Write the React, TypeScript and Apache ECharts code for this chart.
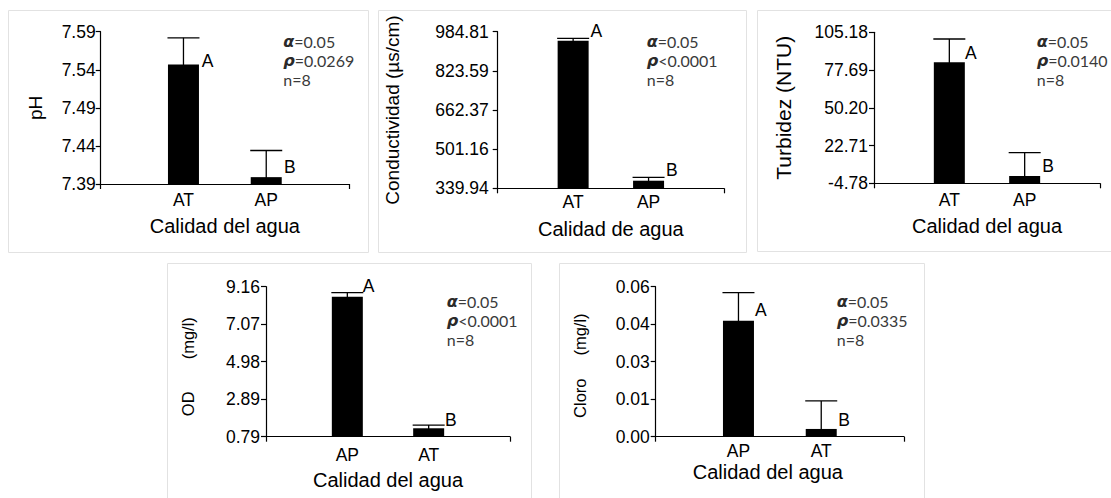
import React, { useEffect, useRef } from "react";
import * as echarts from "echarts";

// ---------- data ----------
const categoriesTop = ["", "AT", "AP", ""];
const categoriesBottom = ["", "AP", "AT", ""];

const phMeans = [7.547, 7.399];
const phUpper = [7.582, 7.434];
const phTicks = [7.39, 7.44, 7.49, 7.54, 7.59];
const phTickLabels = ["7.39", "7.44", "7.49", "7.54", "7.59"];

const condMeans = [947.7, 371.2];
const condUpper = [957.6, 385.2];
const condTicks = [339.94, 501.16, 662.37, 823.59, 984.81];
const condTickLabels = ["339.94", "501.16", "662.37", "823.59", "984.81"];

const turbMeans = [83.3, 0.5];
const turbUpper = [100.3, 17.5];
const turbTicks = [-4.78, 22.71, 50.2, 77.69, 105.18];
const turbTickLabels = ["-4.78", "22.71", "50.20", "77.69", "105.18"];

const odMeans = [8.6, 1.26];
const odUpper = [8.83, 1.44];
const odTicks = [0.79, 2.89, 4.98, 7.07, 9.16];
const odTickLabels = ["0.79", "2.89", "4.98", "7.07", "9.16"];

const cloroMeans = [0.0464, 0.0031];
const cloroUpper = [0.0576, 0.0143];
const cloroTicks = [0, 0.015, 0.03, 0.045, 0.06];
const cloroTickLabels = ["0.00", "0.01", "0.03", "0.04", "0.06"];

const groupLetters = ["A", "B"];
const alphaValues = ["0.05", "0.05", "0.05", "0.05", "0.05"];
const pValues = ["=0.0269", "<0.0001", "=0.0140", "<0.0001", "=0.0335"];
const nValues = ["8", "8", "8", "8", "8"];

// ---------- layout ----------
const SANS = "'Liberation Sans', Arial, Helvetica, sans-serif";
const STAT = "Lato, 'Open Sans', 'DejaVu Sans', sans-serif";
const BAR_W = 31;

type Panel = {
  grid: { left: number; top: number; width: number; height: number };
  cats: string[];
  means: number[];
  upper: number[];
  ticks: number[];
  tickLabels: string[];
  yName: string;
  yNameStyle: any;
  yNameGap: number;
  xName: string;
  xNameGap: number;
  xNamePad?: number[];
  xLabelMargin: number;
  yLabelMargin: number;
  border: [number, number, number, number];
  letters: [number, number][];
  stats: [number, number];
};

const panels: Panel[] = [
  {
    grid: { left: 100.7, top: 31.7, width: 248.3, height: 152.3 },
    cats: categoriesTop, means: phMeans, upper: phUpper, ticks: phTicks, tickLabels: phTickLabels,
    yName: "pH", yNameStyle: { fontSize: 19, lineHeight: 19 }, yNameGap: 56,
    xName: "Calidad del agua", xNameGap: 32, xLabelMargin: 7, yLabelMargin: 5,
    border: [8, 10, 360, 242],
    letters: [[201.7, 61], [284, 167]],
    stats: [283.3, 41.5],
  },
  {
    grid: { left: 497.7, top: 31.7, width: 226.3, height: 156.6 },
    cats: categoriesTop, means: condMeans, upper: condUpper, ticks: condTicks, tickLabels: condTickLabels,
    yName: "Conductividad (µs/cm)", yNameStyle: { fontSize: 19, lineHeight: 19 }, yNameGap: 96,
    xName: "Calidad de agua", xNameGap: 31, xLabelMargin: 5, yLabelMargin: 9,
    border: [378, 10, 368, 242],
    letters: [[590.5, 31], [666, 170]],
    stats: [646.7, 41.7],
  },
  {
    grid: { left: 874, top: 32.3, width: 226, height: 151 },
    cats: categoriesTop, means: turbMeans, upper: turbUpper, ticks: turbTicks, tickLabels: turbTickLabels,
    yName: "Turbidez (NTU)", yNameStyle: { fontSize: 21, lineHeight: 21 }, yNameGap: 80,
    xName: "Calidad del agua", xNameGap: 32.5, xLabelMargin: 8, yLabelMargin: 6,
    border: [757, 10, 370, 241],
    letters: [[965, 53], [1042.3, 166]],
    stats: [1036.7, 41.7],
  },
  {
    grid: { left: 266, top: 286.7, width: 244, height: 150 },
    cats: categoriesBottom, means: odMeans, upper: odUpper, ticks: odTicks, tickLabels: odTickLabels,
    yName: "OD       (mg/l)",
    yNameStyle: { fontSize: 16.5, lineHeight: 19, padding: [0, 10, 0, 0] },
    yNameGap: 69,
    xName: "Calidad del agua", xNameGap: 33, xLabelMargin: 9.5, yLabelMargin: 6,
    border: [167, 263, 364, 260],
    letters: [[362.7, 286.2], [445, 420]],
    stats: [446.7, 301.7],
  },
  {
    grid: { left: 655.7, top: 286.7, width: 248.3, height: 150 },
    cats: categoriesBottom, means: cloroMeans, upper: cloroUpper, ticks: cloroTicks, tickLabels: cloroTickLabels,
    yName: "Cloro     (mg/l)",
    yNameStyle: { fontSize: 16.5, lineHeight: 19, padding: [0, 8, 0, 0] },
    yNameGap: 66.5,
    xName: "Calidad del agua", xNameGap: 25, xNamePad: [0, 24, 0, 0], xLabelMargin: 5, yLabelMargin: 6,
    border: [559, 263, 365, 260],
    letters: [[755, 310], [838.3, 420]],
    stats: [836.7, 301.7],
  },
];

function makeRenderItem(yMin: number) {
  return (params: any, api: any) => {
    const xi = api.value(0);
    const base = api.coord([xi, yMin]);
    const top = api.coord([xi, api.value(1)]);
    const up = api.coord([xi, api.value(2)]);
    const line = { stroke: "#000", lineWidth: 1.3 };
    return {
      type: "group",
      children: [
        {
          type: "rect",
          shape: { x: base[0] - BAR_W / 2, y: top[1], width: BAR_W, height: base[1] - top[1] },
          style: { fill: "#000" },
        },
        { type: "line", shape: { x1: up[0], y1: up[1], x2: up[0], y2: top[1] + 2 }, style: line },
        {
          type: "line",
          shape: { x1: up[0] - BAR_W / 2 - 0.5, y1: up[1], x2: up[0] + BAR_W / 2 + 0.5, y2: up[1] },
          style: line,
        },
      ],
    };
  };
}

function buildOption() {
  const grid: any[] = [];
  const xAxis: any[] = [];
  const yAxis: any[] = [];
  const series: any[] = [];
  const graphic: any[] = [];

  panels.forEach((p, i) => {
    grid.push({ ...p.grid, containLabel: false, outerBoundsMode: "none" });
    xAxis.push({
      type: "category",
      gridIndex: i,
      data: p.cats,
      boundaryGap: false,
      position: "bottom",
      axisLine: { show: true, onZero: false, lineStyle: { color: "#000", width: 1.2 } },
      axisTick: {
        show: true,
        length: 5,
        interval: (idx: number) => idx === 0 || idx === p.cats.length - 1,
        lineStyle: { color: "#000", width: 1.2 },
      },
      axisLabel: {
        interval: 0,
        fontSize: 17.5,
        fontFamily: SANS,
        color: "#000",
        margin: p.xLabelMargin,
      },
      splitLine: { show: false },
      name: p.xName,
      nameLocation: "middle",
      nameGap: p.xNameGap,
      nameMoveOverlap: false,
      nameTextStyle: {
        fontSize: 20,
        lineHeight: 20,
        fontFamily: SANS,
        color: "#000",
        padding: p.xNamePad || 0,
      },
    });
    const tmin = p.ticks[0];
    const tmax = p.ticks[p.ticks.length - 1];
    yAxis.push({
      type: "value",
      gridIndex: i,
      min: tmin,
      max: tmax,
      axisLine: { show: true, onZero: false, lineStyle: { color: "#000", width: 1.2 } },
      axisTick: {
        show: true,
        length: 5,
        customValues: p.ticks,
        lineStyle: { color: "#000", width: 1.2 },
      },
      axisLabel: {
        customValues: p.ticks,
        fontSize: 17.5,
        fontFamily: SANS,
        color: "#000",
        margin: p.yLabelMargin,
        formatter: (v: number) => {
          let best = 0;
          p.ticks.forEach((t, k) => {
            if (Math.abs(t - v) < Math.abs(p.ticks[best] - v)) best = k;
          });
          return p.tickLabels[best];
        },
      },
      splitLine: { show: false },
      name: p.yName,
      nameLocation: "middle",
      nameGap: p.yNameGap,
      nameMoveOverlap: false,
      nameTextStyle: { fontFamily: SANS, color: "#000", ...p.yNameStyle },
    });
    series.push({
      type: "custom",
      xAxisIndex: i,
      yAxisIndex: i,
      clip: false,
      renderItem: makeRenderItem(tmin),
      encode: { x: 0, y: [1, 2] },
      data: p.means.map((m, k) => [k + 1, m, p.upper[k]]),
      silent: true,
    });

    const [bx, by, bw, bh] = p.border;
    graphic.push({
      type: "rect",
      z: -10,
      shape: { x: bx + 0.5, y: by + 0.5, width: bw, height: bh },
      style: { fill: "none", stroke: "#e2e2e2", lineWidth: 1 },
    });
    p.letters.forEach(([lx, ly], k) => {
      graphic.push({
        type: "text",
        x: lx,
        y: ly,
        style: {
          text: groupLetters[k],
          fontSize: 17.5,
          fontFamily: SANS,
          fill: "#000",
          align: "left",
          verticalAlign: "middle",
        },
      });
    });
    const [sx, sy] = p.stats;
    const statLines = [
      "{g|α}=" + alphaValues[i],
      "{g|ρ}" + pValues[i],
      "n=" + nValues[i],
    ];
    statLines.forEach((t, k) => {
      graphic.push({
        type: "text",
        x: sx,
        y: sy + k * 19,
        style: {
          text: t,
          fontSize: 16,
          fontFamily: STAT,
          fill: "#3a3a3a",
          align: "left",
          verticalAlign: "middle",
          rich: {
            g: {
              fontSize: 16,
              fontFamily: "'DejaVu Sans', 'Open Sans', sans-serif",
              fontWeight: "bold",
              fontStyle: "italic",
              fill: "#2a2a2a",
              color: "#2a2a2a",
            },
          },
        },
      });
    });
  });

  return {
    animation: false,
    backgroundColor: "#ffffff",
    grid,
    xAxis,
    yAxis,
    series,
    graphic,
  };
}

export default function App() {
  const ref = useRef<HTMLDivElement>(null);
  useEffect(() => {
    if (!ref.current) return;
    const chart = echarts.init(ref.current, undefined, { renderer: "svg" });
    chart.setOption(buildOption() as any);
    return () => chart.dispose();
  }, []);
  return (
    <div
      ref={ref}
      style={{ position: "fixed", left: 0, top: 0, width: 1111, height: 498, background: "#fff" }}
    />
  );
}
